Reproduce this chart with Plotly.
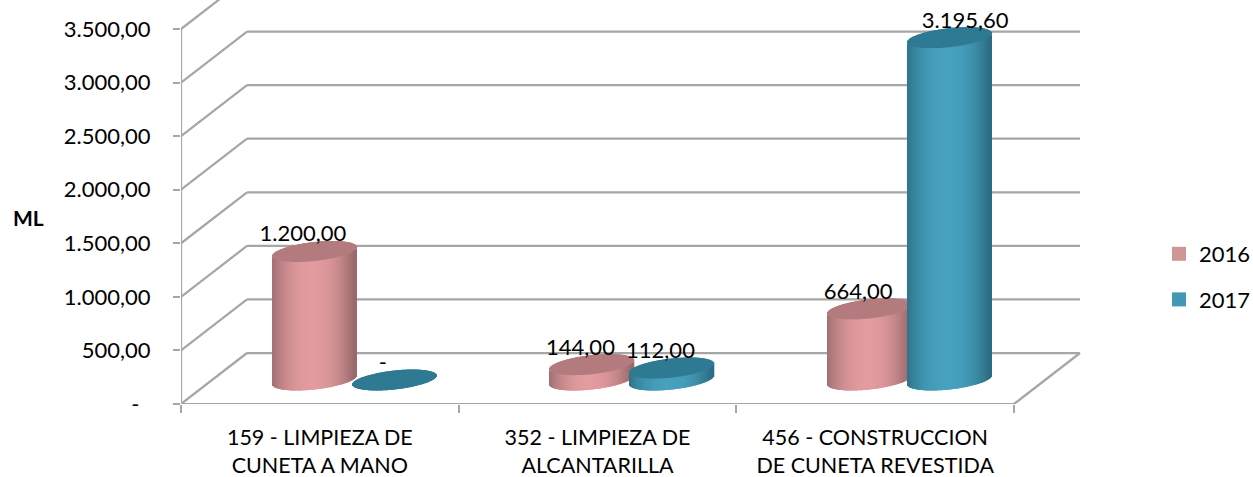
import math
import plotly.graph_objects as go

# ---- data ----
CATEGORY_LINE_1 = ["159 - LIMPIEZA DE", "352 - LIMPIEZA DE", "456 - CONSTRUCCION"]
CATEGORY_LINE_2 = ["CUNETA A MANO", "ALCANTARILLA", "DE CUNETA REVESTIDA"]
SERIES_2016 = [1200.00, 144.00, 664.00]
SERIES_2017 = [0.00, 112.00, 3195.60]
TICK_VALUES = [0, 500, 1000, 1500, 2000, 2500, 3000, 3500]
TICK_LABELS = ["-\u00a0\u00a0", "500,00", "1.000,00", "1.500,00", "2.000,00",
               "2.500,00", "3.000,00", "3.500,00"]
LABELS_2016 = ["1.200,00", "144,00", "664,00"]
LABELS_2017 = ["-", "112,00", "3.195,60"]

# ---- layout geometry ----
W, H = 1253, 477
LEFT, RIGHT_PX, BOTTOM_PX = 181, 1083, 404
PX_X = (1014 - 181) / 3.0          # px per category
PX_Y = (404 - 29) / 3500.0         # px per value unit
XMIN = -0.5
XMAX = XMIN + (RIGHT_PX - LEFT) / PX_X
YMAX = BOTTOM_PX / PX_Y
DEPTH_X = 66 / PX_X
DEPTH_Y = 51 / PX_Y
FONT = "Lato"
FS = 22
GRID = "#a6a6a6"
INK = "#000000"


def hex2rgb(c):
    return tuple(int(c[i:i + 2], 16) for i in (1, 3, 5))


def mix(a, b, t):
    ra, rb = hex2rgb(a), hex2rgb(b)
    return "rgb(%d,%d,%d)" % tuple(round(x + (y - x) * t) for x, y in zip(ra, rb))


def cylinder(center, value, light, dark, top, name):
    """Cylinder as 1px strips: body + top ellipse, on the chart's own axes."""
    half = 42
    ry = 9.5 / PX_Y
    slope = 0.107 / PX_Y   # value units per px of x
    base = 24 / PX_Y
    xs, bases, heights, cols = [], [], [], []
    xc, bc, hc, cc = [], [], [], []
    for i in range(-half, half):
        u = (i + 0.5) / half
        s = math.sqrt(max(0.0, 1 - u * u))
        x = center + (i + 0.5) / PX_X
        front = base - ry * s + slope * (i + 0.5)
        back = base + ry * s + slope * (i + 0.5)
        shade = min(1.0, abs(u + 0.05)) ** 2.2
        if value > 0:
            xs.append(x)
            bases.append(front)
            heights.append(value)
            cols.append(mix(light, dark, shade))
        xc.append(x)
        bc.append(front + value)
        hc.append(back - front)
        cc.append(top)
    out = []
    wid = 1.6 / PX_X
    if xs:
        out.append(go.Bar(x=xs, y=heights, base=bases, width=wid, marker=dict(color=cols, line=dict(width=0)),
                          showlegend=False, hoverinfo="skip", name=name))
    out.append(go.Bar(x=xc, y=hc, base=bc, width=wid, marker=dict(color=cc, line=dict(width=0)),
                      showlegend=False, hoverinfo="skip", name=name))
    return out


fig = go.Figure()

PALETTE = {
    "2016": dict(light="#e29b9e", dark="#99696c", top="#b47b7e", legend="#d29595"),
    "2017": dict(light="#46a1be", dark="#2b6d83", top="#2f7a93", legend="#4298b5"),
}
OFFSET = 34.5 / PX_X
SERIES_SHIFT = 40 / PX_X

for k, (name, vals) in enumerate([("2016", SERIES_2016), ("2017", SERIES_2017)]):
    p = PALETTE[name]
    for c, v in enumerate(vals):
        cx = c + OFFSET + (k * 2 - 1) * SERIES_SHIFT
        for tr in cylinder(cx, v, p["light"], p["dark"], p["top"], name):
            fig.add_trace(tr)

# axis lines (front edges), drawn on top of the clipped wall lines
fig.add_trace(go.Scatter(x=[XMIN, XMIN], y=[0, 3500], mode="lines", cliponaxis=False,
                         line=dict(color=GRID, width=2.25), showlegend=False, hoverinfo="skip"))
fig.add_trace(go.Scatter(x=[XMIN, 2.5], y=[0, 0], mode="lines", cliponaxis=False,
                         line=dict(color=GRID, width=2.25), showlegend=False, hoverinfo="skip"))

# data labels
for k, (name, vals, labels) in enumerate([("2016", SERIES_2016, LABELS_2016),
                                          ("2017", SERIES_2017, LABELS_2017)]):
    xs, ys = [], []
    for c, v in enumerate(vals):
        nudge = 15.5 if v > 3000 else -11.5
        xs.append(c + OFFSET + (k * 2 - 1) * SERIES_SHIFT + nudge / PX_X)
        ys.append(v + (24 + 15.5) / PX_Y)
    fig.add_trace(go.Scatter(x=xs, y=ys, mode="text", text=labels, textposition="middle center",
                             textfont=dict(family=FONT, size=FS, color=INK), cliponaxis=False,
                             showlegend=False, hoverinfo="skip"))

# legend
for name in ("2016", "2017"):
    fig.add_trace(go.Scatter(x=[None], y=[None], mode="markers", name=name, legendgroup=name,
                             marker=dict(symbol="square", size=14, color=PALETTE[name]["legend"])))

# carrier for the axis that holds the second line of each category label
fig.add_trace(go.Scatter(x=[0], y=[None], xaxis="x2", mode="markers", showlegend=False, hoverinfo="skip"))

# wall and floor wireframe
shapes = []
line = dict(color=GRID, width=2.25)
for v in TICK_VALUES:
    shapes.append(dict(type="line", xref="x", yref="y", layer="below", line=line,
                       x0=XMIN, y0=v, x1=XMIN + DEPTH_X, y1=v + DEPTH_Y))
    shapes.append(dict(type="line", xref="x", yref="y", layer="below", line=line,
                       x0=XMIN + DEPTH_X, y0=v + DEPTH_Y, x1=2.5 + DEPTH_X, y1=v + DEPTH_Y))
shapes.append(dict(type="line", xref="x", yref="y", layer="below", line=line,
                   x0=2.5, y0=0, x1=2.5 + DEPTH_X, y1=DEPTH_Y))

fig.update_layout(
    width=W, height=H, barmode="overlay", plot_bgcolor="white", paper_bgcolor="white",
    margin=dict(l=LEFT, r=W - RIGHT_PX, t=0, b=H - BOTTOM_PX, autoexpand=False),
    shapes=shapes,
    font=dict(family=FONT, size=FS, color=INK),
    showlegend=True,
    legend=dict(x=1159 / W, y=1 - 233 / H, xref="container", yref="container", xanchor="left", yanchor="top",
                tracegroupgap=14, font=dict(family=FONT, size=FS, color=INK), bgcolor="rgba(0,0,0,0)"),
    annotations=[dict(text="<b>ML</b>", xref="paper", yref="paper", x=0, y=1 - 217.5 / BOTTOM_PX,
                      xanchor="center", yanchor="middle", xshift=28 - LEFT, showarrow=False,
                      font=dict(family=FONT, size=21, color=INK))],
    xaxis=dict(range=[XMIN, XMAX], tickmode="array", tickvals=[0, 1, 2], ticktext=CATEGORY_LINE_1,
               ticks="", showgrid=False, zeroline=False, showline=False, ticklabelstandoff=18,
               tickfont=dict(family=FONT, size=21.5, color=INK), automargin=False,
               minor=dict(tickmode="array", tickvals=[-0.5, 0.5, 1.5, 2.5], ticks="outside", ticklen=8,
                          tickwidth=2, tickcolor=GRID, showgrid=False)),
    xaxis2=dict(range=[XMIN, XMAX], overlaying="x", side="bottom", anchor="y", tickmode="array",
                tickvals=[0, 1, 2], ticktext=CATEGORY_LINE_2, ticks="", showgrid=False, zeroline=False,
                showline=False, ticklabelstandoff=46, automargin=False,
                tickfont=dict(family=FONT, size=21.5, color=INK)),
    yaxis=dict(range=[0, YMAX], tickmode="array", tickvals=TICK_VALUES, ticktext=TICK_LABELS,
               ticks="outside", ticklen=7, tickwidth=2, tickcolor=GRID, ticklabelstandoff=18,
               showgrid=False, zeroline=False, showline=False, automargin=False,
               tickfont=dict(family=FONT, size=FS, color=INK)),
)

fig.write_html("out.html", config=dict(displayModeBar=False),
               post_script="document.body.style.margin='0';document.documentElement.style.overflow='hidden';")
